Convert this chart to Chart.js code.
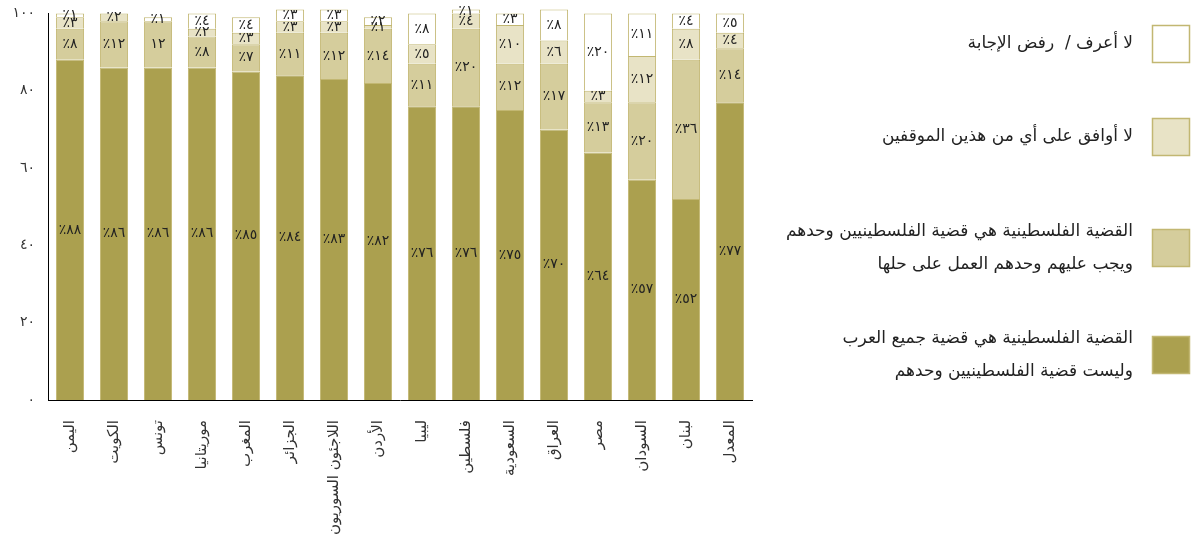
<!DOCTYPE html>
<html lang="ar">
<head>
<meta charset="utf-8">
<script src="https://cdn.jsdelivr.net/npm/chart.js@4/dist/chart.umd.min.js"></script>
<style>
html,body{margin:0;padding:0;background:#fff;}
#wrap{position:relative;width:1195px;height:541px;}
</style>
</head>
<body>
<div id="wrap"><canvas id="c" width="1195" height="541"></canvas></div>
<script>
const categories = ['اليمن','الكويت','تونس','موريتانيا','المغرب','الجزائر','اللاجئون السوريون','الأردن','ليبيا','فلسطين','السعودية','العراق','مصر','السودان','لبنان','المعدل'];
const allArabs        = [88,86,86,86,85,84,83,82,76,76,75,70,64,57,52,77];
const palestiniansOnly = [8,12,12,8,7,11,12,14,11,20,12,17,13,20,36,14];
const neither         = [3,2,0,2,3,3,3,1,5,4,10,6,3,12,8,4];
const dontKnow        = [1,0,1,4,4,3,3,2,8,1,3,8,20,11,4,5];
const yTickLabels = ['٠','٢٠','٤٠','٦٠','٨٠','١٠٠'];
const seriesNames = [
  ['القضية الفلسطينية هي قضية جميع العرب','وليست قضية الفلسطينيين وحدهم'],
  ['القضية الفلسطينية هي قضية الفلسطينيين وحدهم','ويجب عليهم وحدهم العمل على حلها'],
  ['لا أوافق على أي من هذين الموقفين'],
  ['لا أعرف /  رفض الإجابة']
];
// labels shown without the percent sign: [datasetIndex, categoryIndex]
const plainLabels = [[1,2]];

const colors = ['#aba04f','#d5cd9c','#e8e3c6','#ffffff'];
const borderCol = '#c2b772';
const FONT = 'DejaVu Sans';

function toArabicDigits(n){
  return String(n).replace(/[0-9]/g, d => '٠١٢٣٤٥٦٧٨٩'[+d]);
}

const seriesValues = [allArabs, palestiniansOnly, neither, dontKnow];

const barLabelPlugin = {
  id:'barLabels',
  afterDatasetsDraw(chart){
    const ctx = chart.ctx;
    ctx.save();
    ctx.font = '14px "' + FONT + '"';
    ctx.fillStyle = '#222';
    ctx.textAlign = 'center';
    ctx.textBaseline = 'middle';
    chart.data.datasets.forEach((ds, di) => {
      const meta = chart.getDatasetMeta(di);
      meta.data.forEach((bar, i) => {
        const v = ds.data[i];
        if (!v) return;
        const plain = plainLabels.some(p => p[0] === di && p[1] === i);
        const txt = (plain ? '' : '٪') + toArabicDigits(v);
        const y = (bar.y + bar.base) / 2;
        ctx.fillText(txt, bar.x, y);
      });
    });
    ctx.restore();
  }
};

const legendPlugin = {
  id:'sideLegend',
  afterDraw(chart){
    const ctx = chart.ctx;
    ctx.save();
    const boxX = 1152, boxS = 38, textRight = 1133;
    const boxTops = [25, 118, 229, 336];
    ctx.font = '17px "' + FONT + '"';
    ctx.textAlign = 'right';
    ctx.textBaseline = 'middle';
    ctx.direction = 'rtl';
    const order = [3,2,1,0];
    order.forEach((di, k) => {
      const ds = chart.data.datasets[di];
      const top = boxTops[k];
      ctx.fillStyle = ds.backgroundColor;
      ctx.fillRect(boxX, top, boxS, boxS);
      ctx.strokeStyle = borderCol;
      ctx.lineWidth = 1.5;
      ctx.strokeRect(boxX + 0.5, top + 0.5, boxS - 1, boxS - 1);
      ctx.fillStyle = '#222';
      const lines = seriesNames[di];
      const lh = 33;
      const cy = top + boxS / 2;
      const start = cy - (lines.length - 1) * lh / 2;
      lines.forEach((ln, j) => ctx.fillText(ln, textRight, start + j * lh));
    });
    ctx.restore();
  }
};

new Chart(document.getElementById('c'), {
  type:'bar',
  data:{
    labels: categories,
    datasets: seriesValues.map((vals, i) => ({
      label: seriesNames[i].join(' '),
      data: vals,
      backgroundColor: colors[i],
      borderColor: borderCol,
      borderWidth: 1,
      barPercentage: 0.64,
      categoryPercentage: 1.0,
      clip: false
    }))
  },
  options:{
    responsive:false,
    animation:false,
    devicePixelRatio:1,
    layout:{padding:{top:4, right:443, left:0, bottom:0}},
    plugins:{legend:{display:false}, tooltip:{enabled:false}},
    scales:{
      x:{
        stacked:true,
        grid:{display:false},
        border:{display:true, color:'#000', width:1},
        ticks:{
          color:'#333', font:{family:FONT, size:15},
          minRotation:90, maxRotation:90, padding:12, autoSkip:false
        },
        afterFit(s){ s.height = 141; }
      },
      y:{
        stacked:true,
        min:0, max:100,
        grid:{display:false},
        border:{display:true, color:'#000', width:1},
        ticks:{
          stepSize:20, color:'#333', font:{family:FONT, size:14}, padding:5,
          callback:(v) => yTickLabels[Math.round(v/20)]
        },
        afterFit(s){ s.width = 48; }
      }
    }
  },
  plugins:[barLabelPlugin, legendPlugin]
});
</script>
</body>
</html>
